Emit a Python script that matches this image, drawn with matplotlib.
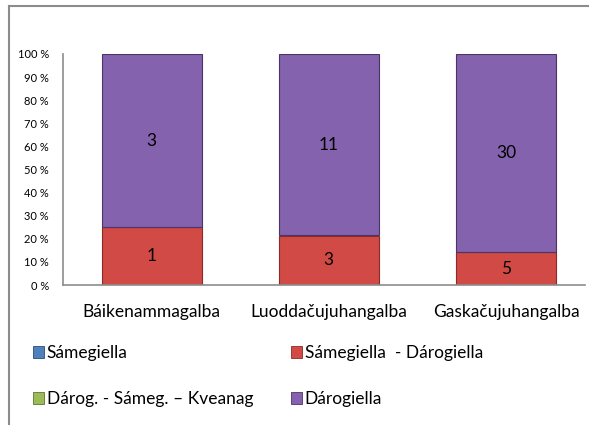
import matplotlib
matplotlib.use("Agg")
import matplotlib.pyplot as plt
from matplotlib.lines import Line2D
import numpy as np

categories = ["Báikenammagalba", "Luoddačujuhangalba", "Gaskačujuhangalba"]
series_names = ["Sámegiella", "Sámegiella  - Dárogiella", "Dárog. - Sámeg. – Kveanag", "Dárogiella"]
samegiella = [0, 0, 0]
same_daro = [1, 3, 5]
daro_same_kvean = [0, 0, 0]
darogiella = [3, 11, 30]
yticks = [0, 0.1, 0.2, 0.3, 0.4, 0.5, 0.6, 0.7, 0.8, 0.9, 1.0]
ytick_labels = ["0 %", "10 %", "20 %", "30 %", "40 %", "50 %", "60 %", "70 %", "80 %", "90 %", "100 %"]

colors = ["#4F81BD", "#D24A45", "#9BBB59", "#8462AE"]
edges = ["#2C4D75", "#8C2A27", "#5E7530", "#4B3468"]

plt.rcParams['font.family'] = ['Lato', 'DejaVu Sans']

W, H = 589, 425
fig = plt.figure(figsize=(W / 100, H / 100), dpi=100)
ax = fig.add_axes([63 / W, 1 - 285 / H, (585 - 63) / W, (285 - 54) / H])

data = np.array([samegiella, same_daro, daro_same_kvean, darogiella], dtype=float)
totals = data.sum(axis=0)
frac = data / totals
x = np.arange(len(categories))
bottom = np.zeros(len(categories))
containers = []
for i, name in enumerate(series_names):
    bc = ax.bar(x, frac[i], 0.565, bottom=bottom, color=colors[i], edgecolor=edges[i],
                linewidth=0.8, label=name, zorder=2)
    containers.append(bc)
    labels = [f"{int(v)}" if v > 0 else "" for v in data[i]]
    ax.bar_label(bc, labels=labels, label_type='center', fontsize=12.5, color='black')
    bottom += frac[i]

ax.set_xlim(-0.5, 2.446)
ax.set_ylim(0, 1)
ax.set_yticks(yticks)
ax.set_yticklabels(ytick_labels, fontsize=8)
ax.set_xticks(x)
ax.set_xticklabels(categories, fontsize=12.5)
ax.tick_params(axis='both', length=0)
ax.tick_params(axis='y', pad=10)
ax.tick_params(axis='x', pad=14)
for s in ['top', 'right']:
    ax.spines[s].set_visible(False)
ax.spines['left'].set_color('#8C8C8C')
ax.spines['bottom'].set_color('#8C8C8C')
ax.spines['left'].set_linewidth(1.2)
ax.spines['bottom'].set_linewidth(1.2)

order = [0, 2, 1, 3]
leg_handles = [plt.Rectangle((0, 0), 1, 1, facecolor=colors[i], edgecolor=edges[i], linewidth=0.6) for i in order]
fig.legend(leg_handles, [series_names[i] for i in order], ncol=2, loc='upper left',
           bbox_to_anchor=(33 / W, 1 - 345 / H), frameon=False, fontsize=12.5,
           handlelength=0.65, handleheight=0.65, handletextpad=0.15,
           labelspacing=1.75, columnspacing=2.15, borderpad=0, borderaxespad=0)

# outer chart frame (cropped)
fig.add_artist(Line2D([9 / W, 9 / W], [0, 1 - 6 / H], color='#8C8C8C', linewidth=1.5))
fig.add_artist(Line2D([9 / W, 1], [1 - 6 / H, 1 - 6 / H], color='#8C8C8C', linewidth=1.5))

fig.savefig("out.png", dpi=100)
